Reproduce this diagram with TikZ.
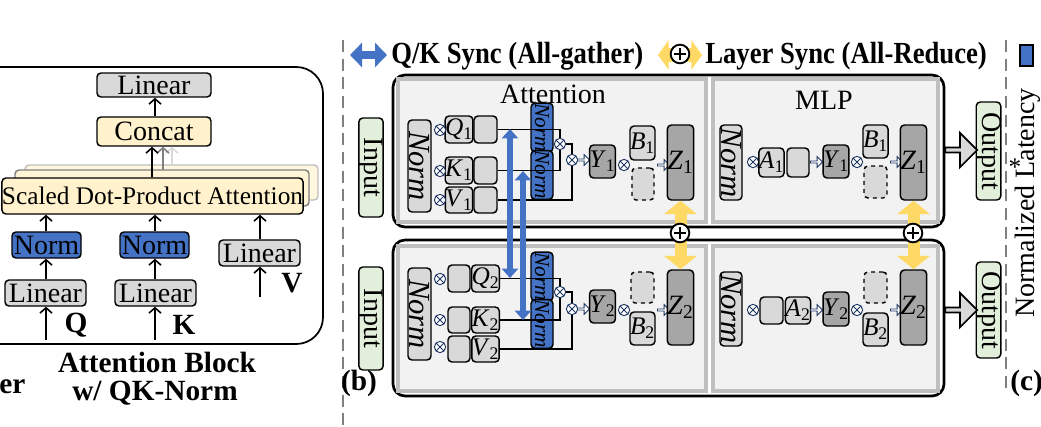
\documentclass[tikz,border=0pt]{standalone}
\usepackage{fontspec}
\setmainfont{Liberation Serif}
\usetikzlibrary{arrows.meta,shapes.arrows}
\definecolor{lg}{HTML}{D9D9D9}
\definecolor{dg}{HTML}{A6A6A6}
\definecolor{pf}{HTML}{F2F2F2}
\definecolor{pb}{HTML}{BFBFBF}
\definecolor{bl}{HTML}{4472C4}
\definecolor{yl}{HTML}{FFF2CC}
\definecolor{gr}{HTML}{E2EFDA}
\definecolor{gd}{HTML}{FFD966}
\definecolor{nv}{HTML}{1F3864}
\newcommand\fs[1]{\fontsize{#1}{#1}\selectfont}
\newcommand\bx[7]{\node[#6, minimum width={(#4-#2)*0.75pt}, minimum height={(#5-#3)*0.75pt}] (#1) at ({(#2+#4)/2},{(#3+#5)/2}) {#7};}
\newcommand\bxr[8]{\node[#6, rotate=#8, minimum height={(#4-#2)*0.75pt}, minimum width={(#5-#3)*0.75pt}] (#1) at ({(#2+#4)/2},{(#3+#5)/2}) {#7};}
\newcommand\sub[2]{\textit{#1}\textsubscript{#2}}
\tikzset{
 bbox/.style={draw, line width=1.1pt, rounded corners=3pt, inner sep=0pt, fill=lg},
 dbox/.style={bbox, fill=dg},
 dash box/.style={bbox, dashed},
 bnorm/.style={bbox, fill=bl},
 inbox/.style={bbox, fill=gr},
 panel/.style={draw=pb, line width=2.5pt, fill=pf},
 outer/.style={draw, line width=2pt, rounded corners=9pt},
 ot/.style={circle, draw=nv, line width=0.7pt, inner sep=0pt, minimum size=8.5pt, fill=white,
   path picture={\draw[nv,line width=0.7pt] (path picture bounding box.north west)--(path picture bounding box.south east) (path picture bounding box.north east)--(path picture bounding box.south west);}},
 harr/.style={single arrow, draw=nv, fill=white, line width=0.7pt, inner sep=0pt, minimum height=9pt, minimum width=8pt, single arrow head extend=1.5pt},
 garr/.style={single arrow, draw, fill=lg, line width=1.3pt, inner sep=0pt, minimum height=24pt, minimum width=26pt, single arrow head extend=4pt},
 ar/.style={line width=1.2pt, -{Straight Barb[length=4pt,width=9pt]}},
 bluearr/.style={bl, line width=5pt, {Triangle[width=12pt,length=7pt]}-{Triangle[width=12pt,length=7pt]}},
 goldarr/.style={gd, line width=9pt, {Triangle[width=24pt,length=10pt]}-{Triangle[width=24pt,length=10pt]}},
 oplus/.style={circle, draw, fill=white, line width=1.4pt, inner sep=0pt, minimum size=14pt,
   path picture={\draw[line width=1.8pt] ([xshift=-4.5pt]path picture bounding box.center)--([xshift=4.5pt]path picture bounding box.center) ([yshift=-4.5pt]path picture bounding box.center)--([yshift=4.5pt]path picture bounding box.center);}},
 lbl/.style={inner sep=0pt, font=\fs{20}},
 dashline/.style={gray, line width=2pt, dash pattern=on 9pt off 5pt}
}
\begin{document}
\begin{tikzpicture}[x=0.75pt,y=-0.75pt]
\useasboundingbox (0,0) rectangle (1041,426);
% ---------- left panel (a) ----------
\begin{scope}
\clip (0,0) rectangle (1041,426);
\draw[line width=1.3pt, rounded corners=20pt] (-30,67) rectangle (323,344);
\end{scope}
\bx{lintop}{97}{73}{211}{97}{bbox}{\fs{21}Linear}
\bx{concat}{97}{117}{211}{146}{bbox,fill=yl}{\fs{21}Concat}
\bx{sh2}{25}{165}{318}{200}{bbox,fill=yl!60,draw=pb}{}
\bx{sh1}{15}{170}{309}{206}{bbox,fill=yl!80,draw=gray}{}
\bx{sdpa}{5}{178}{300}{214}{bbox,fill=yl}{\fs{19}Scaled Dot-Product Attention}
\bx{nq}{12}{232}{81}{258}{bnorm}{\fs{21}Norm}
\bx{nk}{120}{232}{189}{258}{bnorm}{\fs{21}Norm}
\bx{lv}{219}{240}{300}{266}{bbox}{\fs{21}Linear}
\bx{lq}{5}{280}{86}{306}{bbox}{\fs{21}Linear}
\bx{lk}{115}{280}{196}{306}{bbox}{\fs{21}Linear}
\coordinate (qin) at (46,340);
\coordinate (kin) at (155,340);
\coordinate (vin) at (260,297);
\draw[ar] (qin) -- (lq.south -| qin);
\draw[ar] (kin) -- (lk.south -| kin);
\draw[ar] (vin) -- (lv.south -| vin);
\draw[ar] (lq.north -| qin) -- (nq.south -| qin);
\draw[ar] (lk.north -| kin) -- (nk.south -| kin);
\draw[ar] (nq.north -| qin) -- (sdpa.south -| qin);
\draw[ar] (nk.north -| kin) -- (sdpa.south -| kin);
\draw[ar] (lv.north -| vin) -- (sdpa.south -| vin);
\coordinate (g1) at (163,170);
\coordinate (g2) at (172,165);
\draw[ar,lg] (g2) -- (concat.south -| g2);
\draw[ar,gray] (g1) -- (concat.south -| g1);
\draw[ar] (sdpa.north -| 152,0) -- (concat.south -| 152,0);
\draw[ar] (concat.north -| 155,0) -- (lintop.south -| 155,0);
\node[lbl, font=\fs{22}\bfseries] (lQ) at (76,325) {Q};
\node[lbl, font=\fs{22}\bfseries] (lK) at (184,325) {K};
\node[lbl, font=\fs{22}\bfseries] (lV) at (292,283) {V};
\node[lbl, font=\fs{22}\bfseries] (cap1) at (157,362) {Attention Block};
\node[lbl, font=\fs{22}\bfseries] (cap2) at (155,393) {w/ QK-Norm};
\node[lbl, font=\fs{22}\bfseries, anchor=west] (er) at (-1,387) {er};
% ---------- separators ----------
\coordinate (d1t) at (343,40); \coordinate (d1b) at (343,426);
\coordinate (d2t) at (1006,40); \coordinate (d2b) at (1006,392);
\draw[dashline] (d1t) -- (d1b);
\draw[dashline] (d2t) -- (d2b);
% ---------- legend ----------
\coordinate (la1) at (350,55); \coordinate (la2) at (387,55);
\draw[bl, line width=6pt, {Triangle[width=18pt,length=9pt]}-{Triangle[width=18pt,length=9pt]}] (la1) -- (la2);
\node[lbl, anchor=west, font=\fs{23}\bfseries] (leg1) at (391,56) {\scalebox{0.87}[1]{Q/K Sync (All-gather)}};
\coordinate (ly1) at (658,55); \coordinate (ly2) at (702,55);
\draw[gd, line width=10pt, {Triangle[width=22pt,length=8pt]}-{Triangle[width=22pt,length=8pt]}] (ly1) -- (ly2);
\node[oplus] (lop) at (680,54) {};
\node[lbl, anchor=west, font=\fs{23}\bfseries] (leg2) at (705,56) {\scalebox{0.87}[1]{Layer Sync (All-Reduce)}};
\bx{legsq}{1020}{45}{1033}{66}{draw, line width=1.1pt, fill=bl, inner sep=0pt}{}
% ---------- panel (b) outer boxes ----------
\draw[outer] (393,75) rectangle (944,227);
\draw[outer] (393,240) rectangle (944,396);
\draw[panel] (398,79) rectangle (706,222);
\draw[panel] (713,79) rectangle (938,222);
\draw[panel] (398,246) rectangle (706,391);
\draw[panel] (713,246) rectangle (938,391);
\node[lbl] (tatt) at (553,94) {\fs{21}Attention};
\node[lbl] (tmlp) at (824,100) {\fs{21}MLP};
% inputs / outputs
\bxr{in1}{360}{118}{382}{217}{inbox}{\fs{21}Input}{-90}
\bxr{in2}{360}{267}{382}{370}{inbox}{\fs{21}Input}{-90}
\bxr{out1}{978}{102}{999}{200}{inbox}{\fs{21}Output}{-90}
\bxr{out2}{978}{262}{999}{358}{inbox}{\fs{21}Output}{-90}
\node[garr] (ga1) at (960,150) {};
\node[garr] (ga2) at (960,310) {};
% ----- top attention -----
\bxr{an1}{408}{120}{431}{212}{bbox}{\fs{23}\itshape Norm}{-90}
\bx{q1}{448}{116}{470}{143}{bbox}{\fs{19}\sub{Q}{1}}
\bx{q1b}{474}{116}{497}{143}{bbox}{}
\bx{k1}{448}{157}{470}{184}{bbox}{\fs{19}\sub{K}{1}}
\bx{k1b}{474}{157}{497}{184}{bbox}{}
\bx{v1}{448}{187}{470}{213}{bbox}{\fs{19}\sub{V}{1}}
\bx{v1b}{474}{187}{497}{213}{bbox}{}
\node[ot] (oq1) at (440,130) {};
\node[ot] (ok1) at (440,171) {};
\node[ot] (ov1) at (440,200) {};
\bxr{bn1}{531}{105}{553}{150}{bnorm}{\fs{16}\itshape Norm}{-90}
\bxr{bn2}{531}{153}{553}{197}{bnorm}{\fs{16}\itshape Norm}{-90}
\node[ot] (oa1) at (560,144) {};
\node[ot] (ob1) at (572,160) {};
\draw[line width=1.1pt] (q1b.east) -- (q1b.east -| bn1.west);
\draw[line width=1.1pt] (k1b.east) -- (k1b.east -| bn2.west);
\draw[line width=1.1pt] (q1b.east -| bn1.east) -| (oa1.north);
\draw[line width=1.1pt] (k1b.east -| bn2.east) -| (oa1.south);
\draw[line width=1.1pt] (oa1.east) -| (ob1.north);
\draw[line width=1.1pt] (ob1.south) |- (v1b.east);
\node[harr] (ha1) at (583,160) {};
\bx{y1}{592}{145}{613}{178}{dbox}{\fs{19}\sub{Y}{1}}
\node[ot] (oy1) at (624,165) {};
\bx{b1}{631}{126}{654}{160}{bbox}{\fs{19}\sub{B}{1}}
\bx{d1}{632}{168}{654}{200}{dash box}{}
\node[harr] (hz1) at (663,165) {};
\bx{z1}{669}{125}{692}{200}{dbox}{\fs{21}\sub{Z}{1}}
% ----- bottom attention -----
\bxr{an2}{408}{268}{431}{360}{bbox}{\fs{23}\itshape Norm}{-90}
\bx{q2a}{448}{265}{470}{292}{bbox}{}
\bx{q2}{474}{265}{497}{292}{bbox}{\fs{19}\sub{Q}{2}}
\bx{k2a}{448}{307}{470}{333}{bbox}{}
\bx{k2}{474}{307}{497}{333}{bbox}{\fs{19}\sub{K}{2}}
\bx{v2a}{448}{336}{470}{362}{bbox}{}
\bx{v2}{474}{336}{497}{362}{bbox}{\fs{19}\sub{V}{2}}
\node[ot] (oq2) at (440,279) {};
\node[ot] (ok2) at (440,320) {};
\node[ot] (ov2) at (440,347) {};
\bxr{bn3}{531}{255}{553}{298}{bnorm}{\fs{16}\itshape Norm}{-90}
\bxr{bn4}{531}{302}{553}{346}{bnorm}{\fs{16}\itshape Norm}{-90}
\node[ot] (oa2) at (560,292) {};
\node[ot] (ob2) at (572,309) {};
\draw[line width=1.1pt] (q2.east) -- (q2.east -| bn3.west);
\draw[line width=1.1pt] (k2.east) -- (k2.east -| bn4.west);
\draw[line width=1.1pt] (q2.east -| bn3.east) -| (oa2.north);
\draw[line width=1.1pt] (k2.east -| bn4.east) -| (oa2.south);
\draw[line width=1.1pt] (oa2.east) -| (ob2.north);
\draw[line width=1.1pt] (ob2.south) |- (v2.east);
\node[harr] (ha2) at (583,309) {};
\bx{y2}{592}{290}{613}{323}{dbox}{\fs{19}\sub{Y}{2}}
\node[ot] (oy2) at (624,310) {};
\bx{d2}{631}{272}{654}{303}{dash box}{}
\bx{b2}{631}{312}{654}{345}{bbox}{\fs{19}\sub{B}{2}}
\node[harr] (hz2) at (663,310) {};
\bx{z2}{669}{270}{692}{345}{dbox}{\fs{21}\sub{Z}{2}}
% ----- top MLP -----
\bxr{mn1}{720}{125}{742}{200}{bbox}{\fs{23}\itshape Norm}{-90}
\node[ot] (om1) at (753,162) {};
\bx{a1}{760}{148}{783}{177}{bbox}{\fs{19}\sub{A}{1}}
\bx{a1b}{787}{148}{809}{177}{bbox}{}
\node[harr] (hm1) at (816,162) {};
\bx{my1}{825}{145}{847}{178}{dbox}{\fs{19}\sub{Y}{1}}
\node[ot] (omy1) at (857,162) {};
\bx{mb1}{864}{125}{887}{158}{bbox}{\fs{19}\sub{B}{1}}
\bx{md1}{864}{166}{887}{198}{dash box}{}
\node[harr] (hmz1) at (896,162) {};
\bx{mz1}{902}{125}{925}{200}{dbox}{\fs{21}\sub{Z}{1}}
% ----- bottom MLP -----
\bxr{mn2}{720}{272}{742}{346}{bbox}{\fs{23}\itshape Norm}{-90}
\node[ot] (om2) at (753,310) {};
\bx{a2a}{760}{297}{783}{324}{bbox}{}
\bx{a2}{787}{297}{809}{324}{bbox}{\fs{19}\sub{A}{2}}
\node[harr] (hm2) at (816,310) {};
\bx{my2}{825}{292}{847}{326}{dbox}{\fs{19}\sub{Y}{2}}
\node[ot] (omy2) at (857,310) {};
\bx{md2}{864}{272}{887}{303}{dash box}{}
\bx{mb2}{864}{313}{887}{346}{bbox}{\fs{19}\sub{B}{2}}
\node[harr] (hmz2) at (896,310) {};
\bx{mz2}{902}{270}{925}{345}{dbox}{\fs{21}\sub{Z}{2}}
% ----- sync arrows -----
\coordinate (ba1t) at (510,129); \coordinate (ba1b) at (510,278);
\coordinate (ba2t) at (523,171); \coordinate (ba2b) at (523,320);
\draw[bluearr] (ba1t) -- (ba1b);
\draw[bluearr] (ba2t) -- (ba2b);
\draw[goldarr] (z1.south) -- (z2.north);
\draw[goldarr] (mz1.south) -- (mz2.north);
\node[oplus] (op1) at (680,233) {};
\node[oplus] (op2) at (913,233) {};
% labels
\node[lbl, font=\fs{22}\bfseries] (lb) at (359,383) {(b)};
\node[lbl, font=\fs{22}\bfseries, anchor=west] (lc) at (1010,383) {(c)};
\node[lbl, rotate=90] (nl) at (1028,203) {\fs{21}Normalized Latency};
\node[lbl] (star) at (1015,167) {\fs{19}*};
\end{tikzpicture}
\end{document}
